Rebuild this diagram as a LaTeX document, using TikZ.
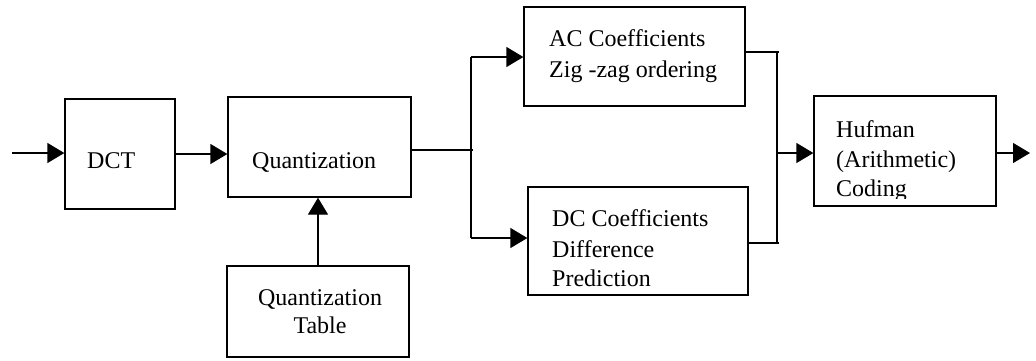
\documentclass[tikz,border=0pt]{standalone}
\usepackage{fontspec}
\setmainfont{Liberation Serif}
\usetikzlibrary{arrows.meta}

\tikzset{
  blk/.style={draw, line width=1.3pt, inner sep=0pt},
  lbl/.style={inner sep=0pt, anchor=base west, font=\fontsize{24}{30}\selectfont},
  lblc/.style={inner sep=0pt, anchor=base, font=\fontsize{24}{30}\selectfont},
  wire/.style={line width=1.3pt},
  arr/.style={wire, -{Triangle[length=17pt,width=20pt]}}
}

\begin{document}
\begin{tikzpicture}[x=1pt, y=-1pt]
\useasboundingbox (0,0) rectangle (1036,360);

% processing blocks
\node[blk, minimum width=110pt, minimum height=110pt] (dct)   at (120,154)   {};
\node[blk, minimum width=183pt, minimum height=100pt] (quant) at (319.5,147) {};
\node[blk, minimum width=182pt, minimum height=91pt]  (table) at (318,311.5) {};
\node[blk, minimum width=221pt, minimum height=99pt]  (ac)    at (634.5,56.5) {};
\node[blk, minimum width=220pt, minimum height=108pt] (dc)    at (638,241)   {};
\node[blk, minimum width=182pt, minimum height=110pt] (huf)   at (905,151)   {};

% block captions
\node[lbl] (tdct) at (87,168) {DCT};
\node[lbl] (tq)   at (252,168) {Quantization};
\node[lblc] (tt1) at (320,305) {Quantization};
\node[lblc] (tt2) at (320,333) {Table};
\node[lbl] (ta1) at (549,46) {AC Coefficients};
\node[lbl] (ta2) at (549,77) {Zig -zag ordering};
\node[lbl] (td1) at (552,226) {DC Coefficients};
\node[lbl] (td2) at (552,257) {Difference};
\node[lbl] (td3) at (552,286) {Prediction};
\begin{scope}
  \clip (814,96) rectangle (996,198);
  \node[lbl] (th1) at (836,137) {Hufman};
  \node[lbl] (th2) at (836,167) {(Arithmetic)};
  \node[lbl] (th3) at (836,196) {Coding};
\end{scope}

% input and DCT -> quantization
\coordinate (in) at (12,153);
\draw[arr] (in) -- (in -| dct.west);
\draw[arr] (dct.east) -- (dct.east -| quant.west);
\draw[arr] (table.north) -- (table.north |- quant.south);

% split into AC / DC paths
\coordinate (ja) at (471,57);
\coordinate (jd) at (471,238);
\draw[wire] ([yshift=-3pt]quant.east) -- ([xshift=2pt, yshift=-3pt]quant.east -| ja);
\draw[wire] (ja) -- (jd);
\draw[arr] (ja) -- (ja -| ac.west);
\draw[arr] (jd) -- (jd -| dc.west);

% merge into entropy coder
\coordinate (ka) at (777,52);
\coordinate (kd) at (777,243);
\coordinate (km) at (777,153);
\draw[wire] (ac.east |- ka) -- ([xshift=2pt]ka);
\draw[wire] (dc.east |- kd) -- ([xshift=2pt]kd);
\draw[wire] (ka) -- (kd);
\draw[arr] (km) -- (km -| huf.west);

% output
\coordinate (out) at (1030,153);
\draw[arr] (huf.east |- out) -- (out);
\end{tikzpicture}
\end{document}
